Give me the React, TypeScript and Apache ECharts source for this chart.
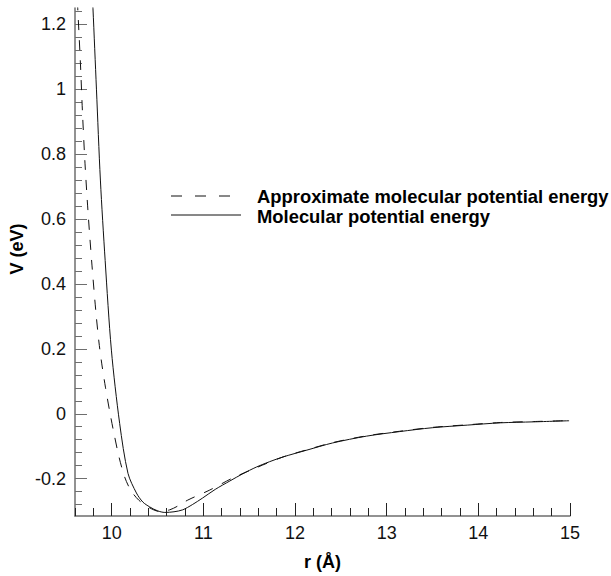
import React, { useEffect, useRef } from "react";
import * as echarts from "echarts";

// r (Å) and V (eV)
const solidR = [9.79, 9.796, 9.834, 9.877, 9.929, 9.997, 10.087, 10.178, 10.27, 10.34, 10.415, 10.5, 10.58, 10.68, 10.775, 10.88, 10.99, 11.13, 11.29, 11.43, 11.58, 11.72, 11.87, 12.13, 12.41, 12.78, 13.14, 13.5, 13.88, 14.24, 14.6, 14.99];
const solidV = [1.28, 1.249, 1.0, 0.72, 0.472, 0.196, -0.0296, -0.1835, -0.244, -0.272, -0.287, -0.299, -0.304, -0.302, -0.296, -0.28, -0.26, -0.233, -0.207, -0.185, -0.164, -0.148, -0.133, -0.112, -0.09, -0.069, -0.055, -0.043, -0.035, -0.028, -0.025, -0.0216];

const dashedR = [9.625, 9.632, 9.659, 9.682, 9.709, 9.743, 9.785, 9.829, 9.861, 9.891, 9.932, 9.976, 10.024, 10.08, 10.142, 10.207, 10.295, 10.415, 10.524, 10.633, 10.73, 10.83, 11.07, 11.32, 11.58, 11.87, 12.13, 12.41, 12.78, 13.14, 13.5, 13.88, 14.24, 14.6, 14.99];
const dashedV = [1.274, 1.237, 1.08, 0.926, 0.772, 0.618, 0.458, 0.31, 0.221, 0.156, 0.082, 0.011, -0.059, -0.133, -0.195, -0.235, -0.266, -0.29, -0.301, -0.296, -0.283, -0.266, -0.235, -0.198, -0.166, -0.133, -0.111, -0.089, -0.068, -0.054, -0.042, -0.034, -0.027, -0.024, -0.021];

const xTickLabels = [10, 11, 12, 13, 14, 15];
const yTickLabels = [-0.2, 0, 0.2, 0.4, 0.6, 0.8, 1, 1.2];
const legendNames = ["Approximate molecular potential energy", "Molecular potential energy"];

const X_MIN = 9.6, X_MAX = 15, Y_MIN = -0.315, Y_MAX = 1.25;

const xMinor: number[] = [];
for (let i = 48; i <= 75; i++) { const v = +(i * 0.2).toFixed(2); if (v >= X_MIN && v <= X_MAX && Math.abs(v - Math.round(v)) > 1e-6) xMinor.push(v); }
const yMinor: number[] = [];
for (let i = -7; i <= 31; i++) { const v = +(i * 0.04).toFixed(2); if (v >= Y_MIN && v <= Y_MAX && Math.abs(v * 5 - Math.round(v * 5)) > 1e-6) yMinor.push(v); }

const axisColor = "#6e6e6e";
const font = "'Liberation Sans', Arial, Helvetica, sans-serif";

export default function App() {
  const ref = useRef<HTMLDivElement>(null);
  useEffect(() => {
    if (!ref.current) return;
    const chart = echarts.init(ref.current, null, { renderer: "svg" });
    const solid = solidR.map((r, i) => [r, solidV[i]]);
    const dashed = dashedR.map((r, i) => [r, dashedV[i]]);
    const baseX = { type: "value", min: X_MIN, max: X_MAX, position: "bottom", splitLine: { show: false } };
    const baseY = { type: "value", min: Y_MIN, max: Y_MAX, position: "left", splitLine: { show: false } };
    chart.setOption({
      animation: false,
      backgroundColor: "#fff",
      textStyle: { fontFamily: font },
      grid: { left: 75, right: 41, top: 8, bottom: 60, containLabel: false },
      xAxis: [
        {
          ...baseX,
          name: "r (Å)",
          nameLocation: "middle",
          nameGap: 37,
          nameTextStyle: { fontSize: 18, fontWeight: "bold", color: "#000", fontFamily: font },
          axisLine: { show: true, onZero: false, lineStyle: { color: axisColor, width: 1.5 } },
          axisTick: { show: true, inside: true, length: 13, customValues: xTickLabels, lineStyle: { color: "#222", width: 1 } },
          axisLabel: { show: true, customValues: xTickLabels, margin: 8, fontSize: 18, color: "#111", fontFamily: font },
        },
        {
          ...baseX,
          axisLine: { show: false, onZero: false },
          axisTick: { show: true, inside: true, length: 8, customValues: xMinor, lineStyle: { color: "#222", width: 1 } },
          axisLabel: { show: false },
        },
      ],
      yAxis: [
        {
          ...baseY,
          axisLine: { show: true, onZero: false, lineStyle: { color: axisColor, width: 1.5 } },
          axisTick: { show: true, inside: true, length: 12, customValues: yTickLabels, lineStyle: { color: axisColor, width: 1 } },
          axisLabel: { show: true, customValues: yTickLabels, margin: 9, fontSize: 18, color: "#111", fontFamily: font },
        },
        {
          ...baseY,
          axisLine: { show: false, onZero: false },
          axisTick: { show: true, inside: true, length: 7, customValues: yMinor, lineStyle: { color: axisColor, width: 1 } },
          axisLabel: { show: false },
        },
      ],
      series: [
        {
          name: legendNames[0],
          type: "line",
          data: dashed,
          smooth: 0.3,
          showSymbol: false,
          clip: true,
          lineStyle: { color: "#111", width: 1, type: [10, 10] },
        },
        {
          name: legendNames[1],
          type: "line",
          data: solid,
          smooth: 0.3,
          showSymbol: false,
          clip: true,
          lineStyle: { color: "#111", width: 1, type: "solid" },
        },
      ],
      graphic: [
        {
          type: "text",
          x: 17,
          y: 249,
          rotation: Math.PI / 2,
          style: { text: "V (eV)", fontSize: 18, fontWeight: "bold", fill: "#000", fontFamily: font, align: "center", verticalAlign: "middle" },
        },
        { type: "line", shape: { x1: 171, y1: 196, x2: 233, y2: 196 }, style: { stroke: "#111", lineWidth: 1, lineDash: [11, 13] } },
        { type: "line", shape: { x1: 171, y1: 215, x2: 241, y2: 215 }, style: { stroke: "#111", lineWidth: 1 } },
        {
          type: "text", x: 257, y: 196,
          style: { text: legendNames[0], fontSize: 18.4, fontWeight: "bold", fill: "#000", fontFamily: font, verticalAlign: "middle" },
        },
        {
          type: "text", x: 257, y: 216,
          style: { text: legendNames[1], fontSize: 18.4, fontWeight: "bold", fill: "#000", fontFamily: font, verticalAlign: "middle" },
        },
      ],
    });
    return () => chart.dispose();
  }, []);
  return <div ref={ref} style={{ position: "absolute", left: 0, top: 0, width: 611, height: 576 }} />;
}
